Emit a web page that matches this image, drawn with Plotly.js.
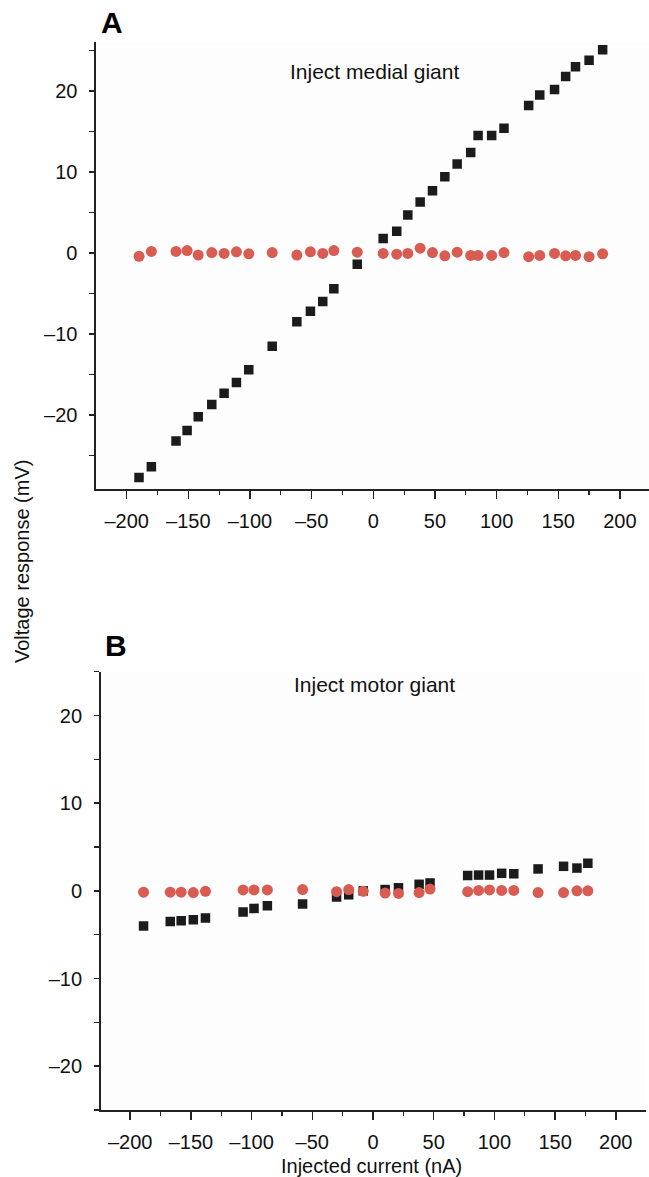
<!DOCTYPE html>
<html>
<head>
<meta charset="utf-8">
<script src="https://cdn.plot.ly/plotly-3.0.1.min.js"></script>
<style>html,body{margin:0;padding:0;background:#fff;}#chart{width:649px;height:1177px;}</style>
</head>
<body>
<div id="chart"></div>
<script>
// Panel A: inject medial giant
const currentA = [-190, -180, -160, -151, -142, -131, -121, -111, -101, -82, -62, -51, -41, -32, -13, 8, 19, 28, 38, 48, 58, 68, 79, 85, 96, 106, 126, 135, 147, 156, 164, 175, 186];
const medialA = [-27.7, -26.4, -23.2, -21.9, -20.2, -18.7, -17.3, -16.0, -14.4, -11.5, -8.5, -7.2, -6.0, -4.4, -1.4, 1.8, 2.7, 4.7, 6.3, 7.7, 9.4, 11.0, 12.4, 14.5, 14.5, 15.4, 18.2, 19.5, 20.2, 21.8, 23.0, 23.8, 25.1];
const motorA = [-0.4, 0.2, 0.2, 0.3, -0.25, 0.05, -0.05, 0.15, -0.1, 0.05, -0.25, 0.15, -0.05, 0.3, 0.1, -0.05, -0.15, -0.05, 0.6, 0.05, -0.35, 0.1, -0.3, -0.3, -0.3, 0.05, -0.45, -0.3, -0.05, -0.35, -0.3, -0.45, -0.1];

// Panel B: inject motor giant
const currentB = [-189, -167, -158, -148, -138, -107, -98, -87, -58, -30, -20, -8, 10, 21, 38, 47, 78, 87, 96, 106, 116, 136, 157, 168, 177];
const medialB = [-4.0, -3.5, -3.4, -3.3, -3.1, -2.4, -2.0, -1.7, -1.5, -0.7, -0.45, 0.0, 0.15, 0.35, 0.75, 0.9, 1.75, 1.8, 1.8, 2.0, 1.95, 2.5, 2.8, 2.6, 3.15];
const motorB = [-0.15, -0.15, -0.15, -0.2, -0.05, 0.1, 0.1, 0.1, 0.15, -0.1, 0.15, -0.05, -0.25, -0.3, -0.2, 0.2, -0.1, 0.05, 0.1, 0.05, 0.05, -0.2, -0.2, 0.0, 0.0];

const xTicks = [-200, -150, -100, -50, 0, 50, 100, 150, 200];
const yTicks = [-20, -10, 0, 10, 20];

const W = 649, H = 1177;
const px = v => v / W;
const py = v => 1 - v / H;

const sqColor = '#1b1b1b';
const ciColor = '#d85c52';
const FONT = 'Liberation Sans, Arial, sans-serif';

const traces = [
  {x: currentA, y: medialA, xaxis: 'x', yaxis: 'y', mode: 'markers', type: 'scatter',
   marker: {symbol: 'square', size: 9.5, color: sqColor}},
  {x: currentA, y: motorA, xaxis: 'x', yaxis: 'y', mode: 'markers', type: 'scatter',
   marker: {symbol: 'circle', size: 11, color: ciColor}},
  {x: currentB, y: medialB, xaxis: 'x2', yaxis: 'y2', mode: 'markers', type: 'scatter',
   marker: {symbol: 'square', size: 9.5, color: sqColor}},
  {x: currentB, y: motorB, xaxis: 'x2', yaxis: 'y2', mode: 'markers', type: 'scatter',
   marker: {symbol: 'circle', size: 11, color: ciColor}}
];

const fmt = v => v < 0 ? '\u2013' + Math.abs(v) : String(v);

const xCommon = {
  tickvals: xTicks, ticktext: xTicks.map(fmt),
  ticks: 'outside', ticklen: 8, tickwidth: 1.5, tickcolor: '#222',
  minor: {ticks: 'outside', ticklen: 4, tickwidth: 1.2, tickcolor: '#222', dtick: 25, tick0: 0, showgrid: false},
  showline: true, linecolor: '#222', linewidth: 1.6,
  showgrid: false, zeroline: false, ticklabelstandoff: 5,
  tickfont: {family: FONT, size: 20, color: '#111'}
};
const yCommon = {
  tickvals: yTicks, ticktext: yTicks.map(fmt),
  ticks: 'outside', ticklen: 5, tickwidth: 1.5, tickcolor: '#222',
  minor: {ticks: 'outside', ticklen: 5, tickwidth: 1.2, tickcolor: '#222', dtick: 5, tick0: 0, showgrid: false},
  showline: true, linecolor: '#222', linewidth: 1.6,
  showgrid: false, zeroline: false, ticklabelstandoff: 8,
  tickfont: {family: FONT, size: 20, color: '#111'}
};

const layout = {
  width: W, height: H,
  margin: {l: 0, r: 0, t: 0, b: 0},
  paper_bgcolor: '#ffffff', plot_bgcolor: '#fdfdfd',
  showlegend: false,
  font: {family: FONT, color: '#111'},
  xaxis: Object.assign({}, xCommon, {domain: [px(96), 1], range: [-224.9, 223.6], anchor: 'y'}),
  yaxis: Object.assign({}, yCommon, {domain: [py(489.3), py(42)], range: [-29.17, 26.05], anchor: 'x'}),
  xaxis2: Object.assign({}, xCommon, {domain: [px(100.7), px(646)], range: [-224.3, 224.9], anchor: 'y2'}),
  yaxis2: Object.assign({}, yCommon, {domain: [py(1110), py(671.7)], range: [-25, 25], anchor: 'x2'}),
  annotations: [
    {text: 'A', x: px(112), y: py(22), xref: 'paper', yref: 'paper', showarrow: false,
     font: {family: FONT, size: 30, color: '#000', weight: 'bold'}, xanchor: 'center', yanchor: 'middle'},
    {text: 'B', x: px(116), y: py(645), xref: 'paper', yref: 'paper', showarrow: false,
     font: {family: FONT, size: 30, color: '#000', weight: 'bold'}, xanchor: 'center', yanchor: 'middle'},
    {text: 'Inject medial giant', x: px(374), y: py(72), xref: 'paper', yref: 'paper', showarrow: false,
     font: {family: FONT, size: 21, color: '#111'}, xanchor: 'center', yanchor: 'middle'},
    {text: 'Inject motor giant', x: px(374), y: py(684), xref: 'paper', yref: 'paper', showarrow: false,
     font: {family: FONT, size: 21, color: '#111'}, xanchor: 'center', yanchor: 'middle'},
    {text: 'Voltage response (mV)', x: px(22), y: py(562), xref: 'paper', yref: 'paper', showarrow: false,
     textangle: -90, font: {family: FONT, size: 20, color: '#111'}, xanchor: 'center', yanchor: 'middle'},
    {text: 'Injected current (nA)', x: px(372), y: py(1166), xref: 'paper', yref: 'paper', showarrow: false,
     font: {family: FONT, size: 20, color: '#111'}, xanchor: 'center', yanchor: 'middle'}
  ]
};

Plotly.newPlot('chart', traces, layout, {staticPlot: true, displayModeBar: false});
</script>
</body>
</html>
